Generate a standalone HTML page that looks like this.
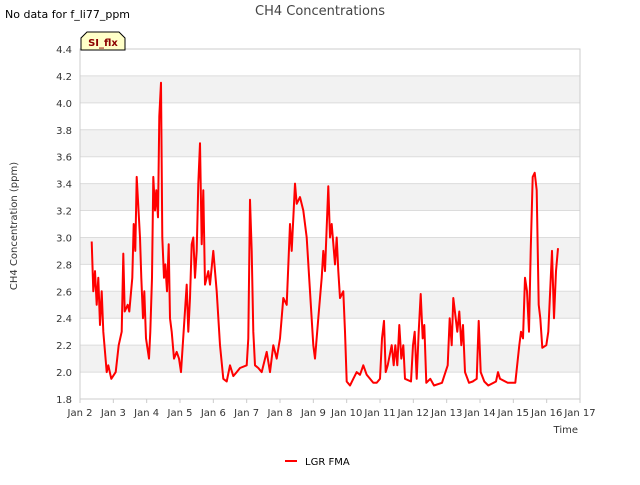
<!DOCTYPE html>
<html><head><meta charset="utf-8"><style>
body{margin:0;background:#fff;font-family:"Liberation Sans","DejaVu Sans",sans-serif}
svg text{font-family:"DejaVu Sans","Liberation Sans",sans-serif}
</style></head><body>
<svg id="c" width="640" height="480">
<text x="5" y="18" font-size="11" fill="#000">No data for f_li77_ppm</text>
<text x="320" y="15" font-size="13" fill="#444" text-anchor="middle">CH4 Concentrations</text>
<g id="plot"></g>
<text x="17" y="226" font-size="10" fill="#333" text-anchor="middle" transform="rotate(-90 17 226)">CH4 Concentration (ppm)</text>
<text x="578" y="433" font-size="10" fill="#333" text-anchor="end">Time</text>
<g>
<line x1="285" y1="461" x2="297" y2="461" stroke="#ff0000" stroke-width="2"/>
<text x="305" y="465" font-size="10" fill="#000">LGR FMA</text></g>
<g>
<path d="M81,50 L81,38 L87,32 L119,32 L125,38 L125,50 Z" fill="#ffffc8" stroke="#000" stroke-width="1"/>
<text x="103" y="46" font-size="10" font-weight="bold" fill="#8b0000" text-anchor="middle">SI_flx</text></g>
</svg>
<script>
const yTicks=[1.8,2.0,2.2,2.4,2.6,2.8,3.0,3.2,3.4,3.6,3.8,4.0,4.2,4.4];
const xTickLabels=["Jan 2","Jan 3","Jan 4","Jan 5","Jan 6","Jan 7","Jan 8","Jan 9","Jan 10","Jan 11","Jan 12","Jan 13","Jan 14","Jan 15","Jan 16","Jan 17"];
const xTickDays=[2,3,4,5,6,7,8,9,10,11,12,13,14,15,16,17];
const times=[2.35,2.4,2.45,2.5,2.55,2.6,2.65,2.7,2.8,2.85,2.94,3.07,3.16,3.25,3.3,3.34,3.43,3.48,3.57,3.61,3.66,3.7,3.8,3.84,3.89,3.93,3.98,4.07,4.11,4.16,4.2,4.25,4.29,4.34,4.38,4.43,4.47,4.52,4.56,4.61,4.66,4.7,4.75,4.82,4.9,4.97,5.03,5.2,5.25,5.3,5.35,5.4,5.45,5.5,5.55,5.6,5.65,5.7,5.75,5.8,5.85,5.9,6.0,6.1,6.2,6.3,6.4,6.5,6.6,6.7,6.8,7.0,7.05,7.1,7.15,7.2,7.25,7.35,7.45,7.6,7.7,7.8,7.9,8.0,8.1,8.2,8.3,8.35,8.45,8.5,8.6,8.7,8.8,8.9,9.0,9.05,9.15,9.25,9.3,9.35,9.45,9.5,9.55,9.65,9.7,9.75,9.8,9.9,9.95,10.0,10.1,10.2,10.3,10.4,10.5,10.6,10.7,10.8,10.9,11.0,11.06,11.12,11.17,11.23,11.35,11.41,11.46,11.52,11.58,11.64,11.7,11.75,11.93,11.99,12.04,12.1,12.16,12.22,12.28,12.33,12.39,12.51,12.62,12.86,13.03,13.09,13.15,13.2,13.32,13.38,13.44,13.49,13.55,13.67,13.78,13.9,13.96,14.02,14.13,14.25,14.48,14.54,14.6,14.83,15.06,15.18,15.23,15.29,15.35,15.41,15.47,15.52,15.58,15.64,15.7,15.76,15.81,15.87,15.99,16.05,16.16,16.22,16.28,16.34];
const values=[2.97,2.6,2.75,2.5,2.7,2.35,2.6,2.3,2.0,2.05,1.95,2.0,2.2,2.3,2.88,2.45,2.5,2.45,2.7,3.1,2.9,3.45,3.0,2.7,2.4,2.6,2.25,2.1,2.3,2.7,3.45,3.2,3.35,3.15,3.9,4.15,3.0,2.7,2.8,2.6,2.95,2.4,2.3,2.1,2.15,2.1,2.0,2.65,2.3,2.55,2.95,3.0,2.7,2.9,3.4,3.7,2.95,3.35,2.65,2.7,2.75,2.65,2.9,2.6,2.2,1.95,1.93,2.05,1.97,2.0,2.03,2.05,2.25,3.28,2.9,2.3,2.05,2.03,2.0,2.15,2.0,2.2,2.1,2.25,2.55,2.5,3.1,2.9,3.4,3.25,3.3,3.2,3.0,2.6,2.2,2.1,2.4,2.7,2.9,2.75,3.38,3.0,3.1,2.8,3.0,2.75,2.55,2.6,2.3,1.93,1.9,1.95,2.0,1.98,2.05,1.98,1.95,1.92,1.92,1.95,2.25,2.38,2.0,2.05,2.2,2.05,2.2,2.05,2.35,2.1,2.2,1.95,1.93,2.2,2.3,1.95,2.3,2.58,2.25,2.35,1.92,1.95,1.9,1.92,2.05,2.4,2.2,2.55,2.3,2.45,2.2,2.35,2.0,1.92,1.93,1.95,2.38,2.0,1.93,1.9,1.93,2.0,1.95,1.92,1.92,2.2,2.3,2.25,2.7,2.6,2.3,2.9,3.45,3.48,3.35,2.5,2.4,2.18,2.2,2.3,2.9,2.4,2.75,2.92];
const L=80,R=580,T=49,B=399,ymin=1.8,ymax=4.4,xmin=2,xmax=17;
const sx=d=>L+(d-xmin)/(xmax-xmin)*(R-L);
const sy=v=>B-(v-ymin)/(ymax-ymin)*(B-T);
const NS="http://www.w3.org/2000/svg";
const g=document.getElementById('plot');
function mk(t,a){const e=document.createElementNS(NS,t);for(const k in a)e.setAttribute(k,a[k]);g.appendChild(e);return e;}
for(let i=0;i<yTicks.length-1;i++){
  if(i%2===1){const r=mk('rect',{x:L,y:sy(yTicks[i+1]),width:R-L,height:sy(yTicks[i])-sy(yTicks[i+1]),fill:'#f2f2f2'});
  
  }
}
yTicks.forEach(v=>{
  const l=mk('line',{x1:L,x2:R,y1:sy(v),y2:sy(v),stroke:'#dcdcdc','stroke-width':1});
  
  
  const t=mk('text',{x:L-8,y:sy(v)+4,'font-size':10,fill:'#333','text-anchor':'end'});
  t.textContent=v.toFixed(1);
  
  
});
const fr=mk('rect',{x:L,y:T,width:R-L,height:B-T,fill:'none',stroke:'#cccccc'});


xTickDays.forEach((d,i)=>{
  const tk=mk('line',{x1:sx(d),x2:sx(d),y1:B,y2:B+4,stroke:'#ccc'});
  
  
  const t=mk('text',{x:sx(d),y:B+17,'font-size':10,fill:'#333','text-anchor':'middle'});
  t.textContent=xTickLabels[i];
  
  
});
const p=mk('polyline',{points:times.map((d,i)=>sx(d).toFixed(1)+','+sy(values[i]).toFixed(1)).join(' '),fill:'none',stroke:'#ff0000','stroke-width':2,'stroke-linejoin':'round'});


</script>
</body></html>
